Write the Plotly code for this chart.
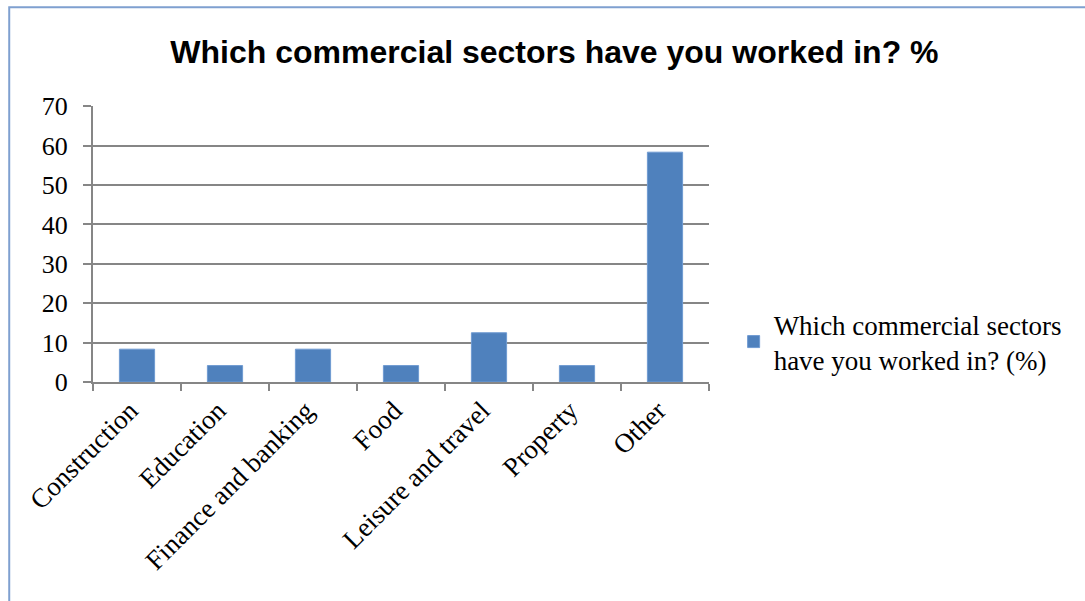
import plotly.graph_objects as go

# Survey responses: share of respondents per sector (%)
sectors = ["Construction", "Education", "Finance and banking", "Food",
           "Leisure and travel", "Property", "Other"]
percent = [8.33, 4.17, 8.33, 4.17, 12.5, 4.17, 58.33]
series_name = "Which commercial sectors<br>have you worked in? (%)"
chart_title = "Which commercial sectors have you worked in? %"
y_ticks = [0, 10, 20, 30, 40, 50, 60, 70]

serif = "Liberation Serif"
grid = "#868686"

fig = go.Figure(
    go.Bar(
        x=sectors,
        y=percent,
        name=series_name,
        marker=dict(color="#4F81BD", line=dict(color="#6F9BD2", width=1)),
        showlegend=True,
    )
)

fig.update_layout(
    width=1085,
    height=601,
    margin=dict(l=93, r=376, t=106, b=219),
    paper_bgcolor="white",
    plot_bgcolor="white",
    bargap=0.6,
    title=dict(
        text="<b>" + chart_title + "</b>",
        font=dict(family="Liberation Sans", size=32, color="black"),
        x=0.511, xanchor="center",
        y=0.913, yanchor="middle",
    ),
    legend=dict(
        x=1.04, xanchor="left",
        y=0.145, yanchor="middle",
        font=dict(family=serif, size=27, color="black"),
        itemwidth=30,
        bgcolor="rgba(0,0,0,0)",
    ),
    font=dict(family=serif, size=26, color="black"),
)

fig.update_xaxes(
    showline=True, linecolor=grid, linewidth=2,
    ticks="outside", tickson="boundaries", ticklen=7, tickcolor=grid, tickwidth=2,
    tickangle=-45,
    ticklabelshift=-7,
    tickfont=dict(family=serif, size=27, color="black"),
    showgrid=False,
)
fig.update_yaxes(
    range=[0, 70.05],
    tickvals=y_ticks,
    showline=True, linecolor=grid, linewidth=2,
    ticks="outside", ticklen=8, tickcolor=grid, tickwidth=2,
    ticklabelstandoff=10,
    showgrid=True, gridcolor=grid, gridwidth=2,
    tickfont=dict(family=serif, size=26, color="black"),
    zeroline=False,
)

# Chart frame
fig.add_shape(
    type="rect", xref="paper", yref="paper",
    x0=-0.136, x1=1.7, y0=-0.85, y1=1.358,
    line=dict(color="#7FA0D0", width=2),
    layer="below",
)

fig.write_html("out.html")
